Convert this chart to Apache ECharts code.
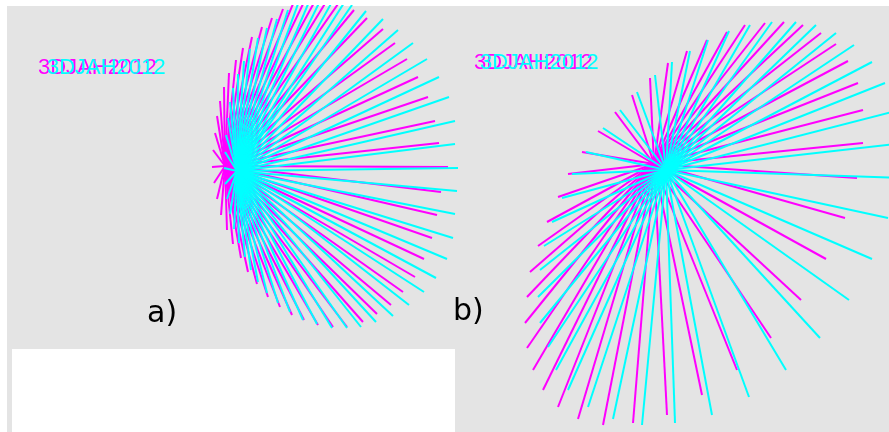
<!DOCTYPE html>
<html>
<head>
<meta charset="utf-8">
<script src="https://cdn.jsdelivr.net/npm/echarts@6/dist/echarts.min.js"></script>
<style>
  html, body { margin: 0; padding: 0; background: #fff; }
  #chart { width: 889px; height: 432px; }
</style>
</head>
<body>
<div id="chart"></div>
<script>
// 立体图 (红青) — 两组射线，坐标按像素读取
var centerAMagenta = [225, 166];
var centerACyan = [237, 171];
var centerBMagenta = [654, 164];
var centerBCyan = [666, 170];

// a) 左图 射线端点
var endsAMagenta = [
    [268, 297], [257, 284], [248, 272], [241, 258], [233, 244], [227, 230], [221, 215],
    [217, 199], [214, 183], [212, 167], [213, 150], [215, 133], [217, 116], [220, 101],
    [224, 87], [229, 73], [236, 60], [243, 48], [252, 37], [262, 27], [272, 18], [283, 9],
    [293, 4], [304, 2], [315, 1], [326, 2], [338, 4], [354, 10], [367, 18], [383, 29],
    [395, 43], [407, 59], [418, 77], [428, 97], [435, 121], [439, 143], [448, 167],
    [441, 192], [437, 215], [432, 238], [424, 259], [415, 277], [403, 292], [391, 305],
    [377, 314], [363, 322], [347, 327], [333, 327], [318, 325], [304, 320], [292, 315],
    [280, 307]
];
var endsACyan = [
    [278, 303], [267, 293], [258, 282], [251, 270], [245, 257], [239, 243], [234, 229],
    [230, 214], [227, 199], [225, 184], [224, 168], [225, 152], [226, 135], [228, 118],
    [230, 102], [233, 88], [238, 74], [244, 61], [250, 49], [258, 38], [267, 28], [277, 19],
    [288, 10], [298, 4], [309, 2], [320, 1], [332, 2], [344, 3], [352, 5], [366, 11],
    [383, 19], [398, 30], [413, 43], [427, 59], [439, 77], [449, 97], [455, 121],
    [455, 144], [458, 168], [457, 191], [455, 214], [453, 238], [447, 259], [436, 278],
    [424, 292], [409, 305], [393, 316], [376, 322], [361, 327], [347, 328], [332, 328],
    [317, 324], [303, 320], [290, 312]
];

// b) 右图 射线端点
var endsBMagenta = [
    [650, 78], [632, 95], [615, 112], [598, 131], [582, 152], [568, 174], [558, 197],
    [547, 222], [538, 246], [530, 272], [527, 297], [525, 323], [527, 348], [533, 370],
    [543, 390], [558, 407], [578, 419], [603, 425], [633, 423], [667, 415], [702, 395],
    [737, 370], [771, 338], [801, 300], [826, 259], [845, 218], [857, 178], [863, 143],
    [863, 110], [858, 83], [848, 61], [836, 44], [821, 33], [803, 25], [784, 22],
    [765, 23], [745, 25], [727, 32], [707, 40], [687, 51], [668, 63]
];
var endsBCyan = [
    [655, 75], [637, 92], [620, 110], [603, 128], [586, 152], [572, 174], [562, 198],
    [552, 222], [544, 246], [540, 270], [538, 297], [540, 323], [548, 347], [556, 370],
    [568, 390], [588, 407], [613, 419], [642, 425], [675, 423], [712, 415], [749, 397],
    [786, 370], [820, 338], [849, 300], [872, 259], [888, 218], [900, 178], [905, 143],
    [900, 110], [885, 83], [872, 62], [854, 45], [836, 33], [816, 25], [796, 22],
    [772, 22], [750, 25], [729, 31], [708, 40], [690, 51], [672, 62]
];

var titleText = '3DJAH2012';
var panelLabels = ['a)', 'b)'];

function spokes(center, ends) {
    return ends.map(function (p) {
        return { coords: [center, p] };
    });
}

var myChart = echarts.init(document.getElementById('chart'));

var option = {
    animation: false,
    grid: {
        left: 7, top: 6, right: 0, bottom: 0,
        show: true,
        backgroundColor: '#e4e4e4',
        borderWidth: 0
    },
    xAxis: { type: 'value', min: 7, max: 889, show: false },
    yAxis: { type: 'value', min: 6, max: 432, inverse: true, show: false },
    graphic: [
        { type: 'rect', z: 100, shape: { x: 12, y: 349, width: 443, height: 83 }, style: { fill: '#fff' } },
        { type: 'text', z: 100, x: 38, y: 68, style: { text: titleText, fill: '#ff00ff', font: '22px "Liberation Sans"', verticalAlign: 'middle' } },
        { type: 'text', z: 101, x: 47, y: 68, style: { text: titleText, fill: '#00ffff', font: '22px "Liberation Sans"', verticalAlign: 'middle' } },
        { type: 'text', z: 100, x: 474, y: 63, style: { text: titleText, fill: '#ff00ff', font: '22px "Liberation Sans"', verticalAlign: 'middle' } },
        { type: 'text', z: 101, x: 480, y: 63, style: { text: titleText, fill: '#00ffff', font: '22px "Liberation Sans"', verticalAlign: 'middle' } },
        { type: 'text', z: 100, x: 147, y: 314, style: { text: panelLabels[0], fill: '#000', font: '30px "DejaVu Sans"', verticalAlign: 'middle' } },
        { type: 'text', z: 100, x: 453, y: 312, style: { text: panelLabels[1], fill: '#000', font: '30px "DejaVu Sans"', verticalAlign: 'middle' } }
    ],
    series: [{
        name: 'a-magenta',
        type: 'lines',
        coordinateSystem: 'cartesian2d',
        clip: true,
        lineStyle: { color: '#ff00ff', width: 2, opacity: 1 },
        data: spokes(centerAMagenta, endsAMagenta)
    }, {
        name: 'b-magenta',
        type: 'lines',
        coordinateSystem: 'cartesian2d',
        clip: true,
        lineStyle: { color: '#ff00ff', width: 2, opacity: 1 },
        data: spokes(centerBMagenta, endsBMagenta)
    }, {
        name: 'a-cyan',
        type: 'lines',
        coordinateSystem: 'cartesian2d',
        clip: true,
        lineStyle: { color: '#00ffff', width: 2, opacity: 1 },
        data: spokes(centerACyan, endsACyan)
    }, {
        name: 'b-cyan',
        type: 'lines',
        coordinateSystem: 'cartesian2d',
        clip: true,
        lineStyle: { color: '#00ffff', width: 2, opacity: 1 },
        data: spokes(centerBCyan, endsBCyan)
    }]
};

myChart.setOption(option);
</script>
</body>
</html>
